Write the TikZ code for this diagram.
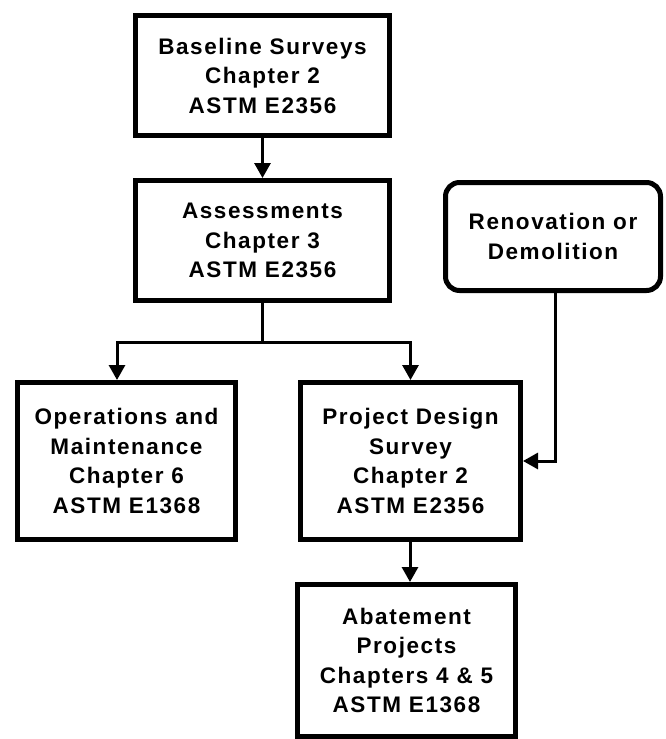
\documentclass[tikz,border=0pt]{standalone}
\usepackage{fontspec}
\usepackage{tikz}
\usetikzlibrary{arrows.meta, positioning, calc}
\newfontfamily\chartfont{Liberation Sans}[LetterSpace=7]

\begin{document}
\begin{tikzpicture}[x=1pt, y=-1pt,
    box/.style={rectangle, draw, line width=5pt, minimum width=218pt, minimum height=157pt, align=center, inner sep=0pt},
    roundbox/.style={box, rounded corners=14pt},
    arrow/.style={-{Triangle[length=15pt, width=16pt]}, line width=3pt},
    line/.style={line width=3pt}]
    \chartfont\bfseries\fontsize{22.5}{29.5}\selectfont
    \useasboundingbox (0,0) rectangle (666,739);
    % Nodes
    \node[box, minimum width=254pt, minimum height=120pt] (base) at (262.5,75.5) {Baseline Surveys\\Chapter 2\\ASTM E2356};
    \node[box, minimum width=254pt, minimum height=120pt] (assess) at (262.5,240.5) {Assessments\\Chapter 3\\ASTM E2356};
    \node[roundbox, minimum width=215pt, minimum height=108pt] (renov) at (553,236.5) {Renovation or\\Demolition};
    \node[box] (om) at (126.5,461) {Operations and\\Maintenance\\Chapter 6\\ASTM E1368};
    \node[box, minimum width=220pt] (pd) at (410.5,461) {Project Design\\Survey\\Chapter 2\\ASTM E2356};
    \node[box, minimum height=152pt] (abate) at (406.5,660.5) {Abatement\\Projects\\Chapters 4 \& 5\\ASTM E1368};
    \coordinate (fork) at (262.5,342);

    % Arrows
    \draw[arrow] (base) -- (assess);
    \draw[line] (assess) -- (fork);
    \draw[arrow] (fork) -| ([xshift=-9.5pt]om.north);
    \draw[arrow] (fork) -| (pd.north);
    \draw[arrow] ([xshift=2pt]renov.south) |- (pd.east);
    \draw[arrow] ([xshift=-0.5pt]pd.south) -- ([xshift=3.5pt]abate.north);

\end{tikzpicture}
\end{document}
